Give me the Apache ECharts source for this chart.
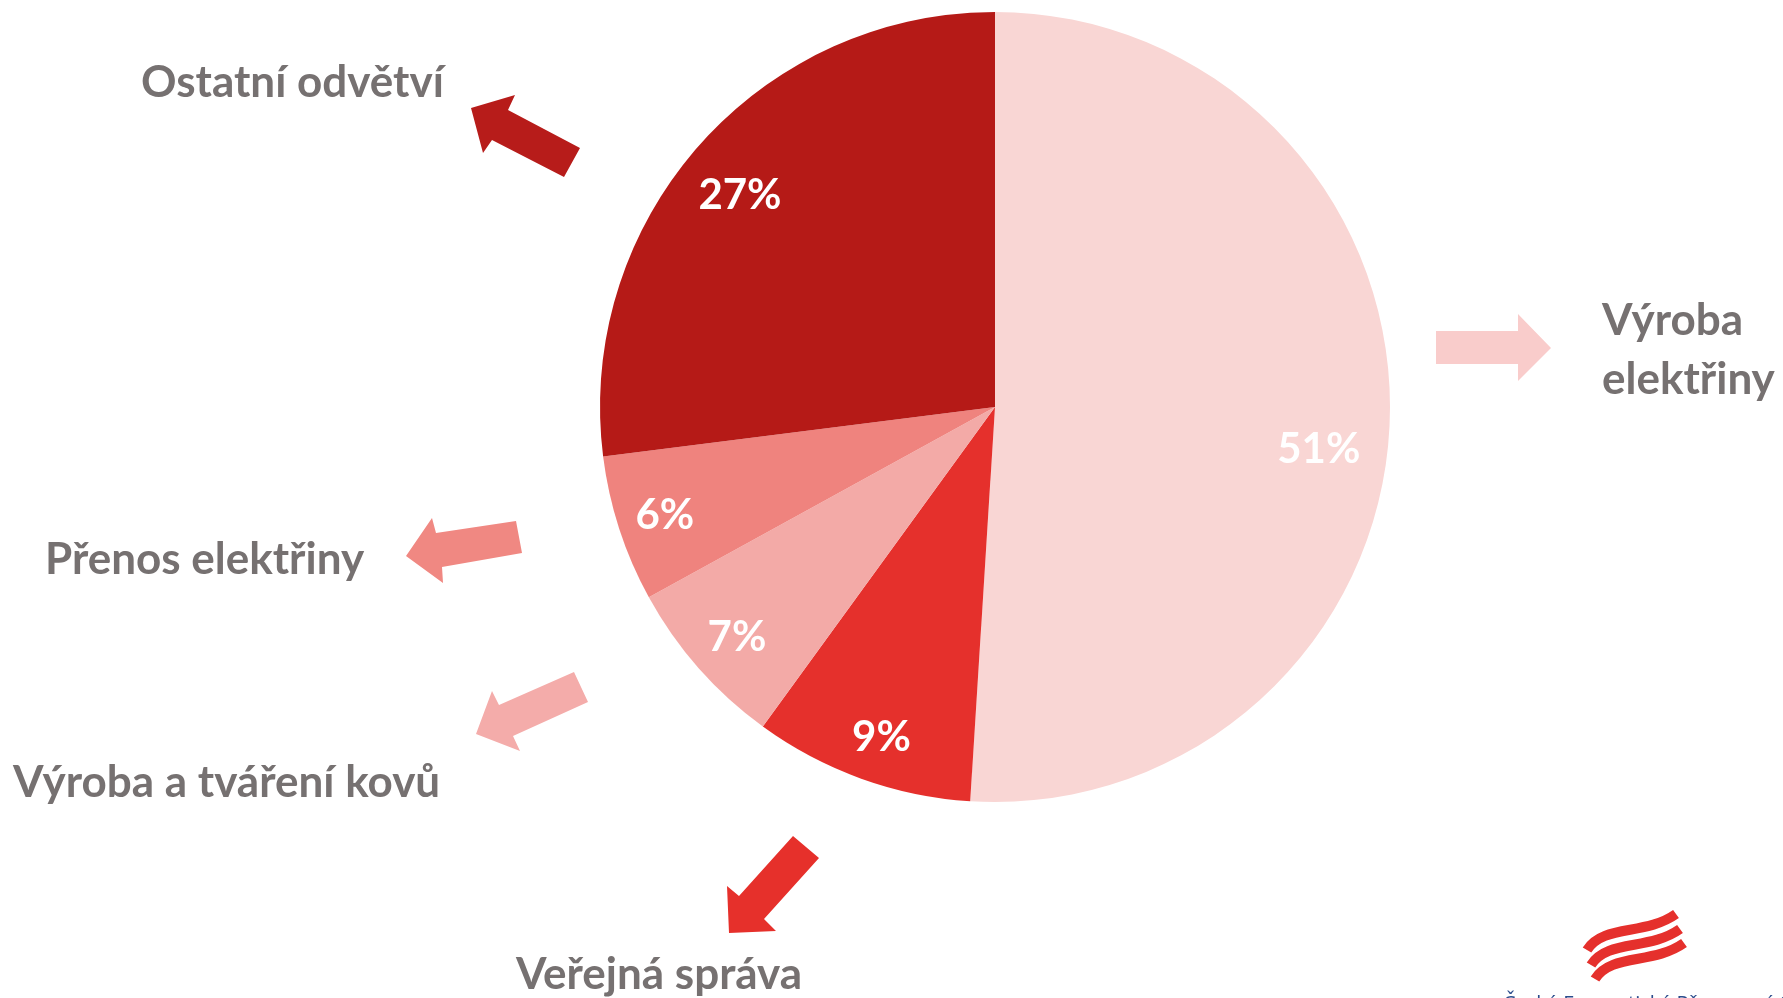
<!DOCTYPE html>
<html lang="cs">
<head>
<meta charset="UTF-8">
<title>Podíl odvětví</title>
<script src="https://cdn.jsdelivr.net/npm/echarts@6.0.0/dist/echarts.min.js"></script>
<style>
    html, body { margin: 0; padding: 0; background: #fff; }
    #chart { width: 1783px; height: 998px; }
</style>
</head>
<body>
<div id="chart"></div>
<script>
// odvětví po směru hodinových ručiček od 12 hodin
const sectors = ['Výroba elektřiny', 'Veřejná správa', 'Výroba a tváření kovů', 'Přenos elektřiny', 'Ostatní odvětví'];
const shares = [51, 9, 7, 6, 27];
const sliceColors = ['#F9D6D4', '#E5302C', '#F3AAA7', '#EF837E', '#B51A17'];
const arrowColors = ['#F9CCCB', '#E6302B', '#F4ACAA', '#F08882', '#B71C1A'];

const gray = '#767171';
const nameFont = 'bold 44px Lato';
const lineH = 59;

// popisky kolem grafu: [levý okraj, účaří prvního řádku]
const namePos = [[1602, 333], [516, 987], [13, 795], [45, 572], [141, 95]];
// posun procent uvnitř výsečí
const pctOffset = [[-20, 32], [3, 7], [0, 3], [-3, 2], [3, 16]];

// šipky (polygony)
const arrowPts = [
    [[1436, 331], [1518, 331], [1518, 314], [1551, 348], [1518, 381], [1518, 364], [1436, 364]],
    [[793, 836], [819, 858], [764, 919], [776, 931], [729, 933], [727, 886], [739, 896]],
    [[574, 672], [588, 702], [513, 736], [520, 751], [476, 734], [492, 691], [499, 705]],
    [[516, 521], [522, 553], [442, 567], [443, 583], [406, 556], [432, 518], [436, 533]],
    [[580, 148], [564, 177], [492, 140], [483, 153], [471, 108], [515, 95], [508, 110]]
];

const chart = echarts.init(document.getElementById('chart'));

const graphics = [];
sectors.forEach((name, i) => {
    graphics.push({
        type: 'polygon',
        shape: { points: arrowPts[i] },
        style: { fill: arrowColors[i] },
        silent: true
    });
    const txt = i === 0 ? name.replace(' ', '\n') : name;
    const lines = txt.split('\n').length;
    graphics.push({
        type: 'text',
        x: namePos[i][0],
        y: namePos[i][1] + (lines - 1) * lineH / 2 - 12,
        style: {
            text: txt,
            font: nameFont,
            fill: gray,
            align: 'left',
            verticalAlign: 'middle',
            lineHeight: lineH
        },
        silent: true
    });
});

// logo vpravo dole
[[0, 0], [4, 15], [8, 29]].forEach(o => {
    graphics.push({
        type: 'bezierCurve',
        x: o[0], y: o[1],
        shape: { x1: 1587, y1: 950, cpx1: 1603, cpy1: 924, cpx2: 1645, cpy2: 936, x2: 1676, y2: 914 },
        style: { fill: null, stroke: '#E5302C', lineWidth: 10, lineCap: 'butt' },
        silent: true
    });
});
graphics.push({
    type: 'text',
    x: 1503, y: 1014,
    style: {
        text: 'Česká Energetická Přenosová Soustava',
        font: '20px "Open Sans"',
        fill: '#2B4C8C',
        align: 'left',
        verticalAlign: 'bottom'
    },
    silent: true
});

const pieData = sectors.map((name, i) => ({
    name: name,
    value: shares[i],
    itemStyle: { color: sliceColors[i] }
}));

chart.setOption({
    animation: false,
    series: [
        {
            type: 'pie',
            center: [995, 407],
            radius: [0, 395],
            startAngle: 90,
            clockwise: true,
            silent: true,
            label: { show: false },
            labelLine: { show: false },
            data: pieData
        },
        {
            // jen popisky procent
            type: 'pie',
            center: [995, 407],
            radius: [0, 682],
            startAngle: 90,
            clockwise: true,
            silent: true,
            z: 3,
            itemStyle: { color: 'rgba(0,0,0,0)' },
            labelLine: { show: false },
            label: {
                show: true,
                position: 'inside',
                formatter: '{c}%',
                color: '#fff',
                fontFamily: 'Lato',
                fontWeight: 'bold',
                fontSize: 42
            },
            data: sectors.map((name, i) => ({
                name: name,
                value: shares[i],
                label: { offset: pctOffset[i] }
            }))
        }
    ],
    graphic: graphics
});
</script>
</body>
</html>
